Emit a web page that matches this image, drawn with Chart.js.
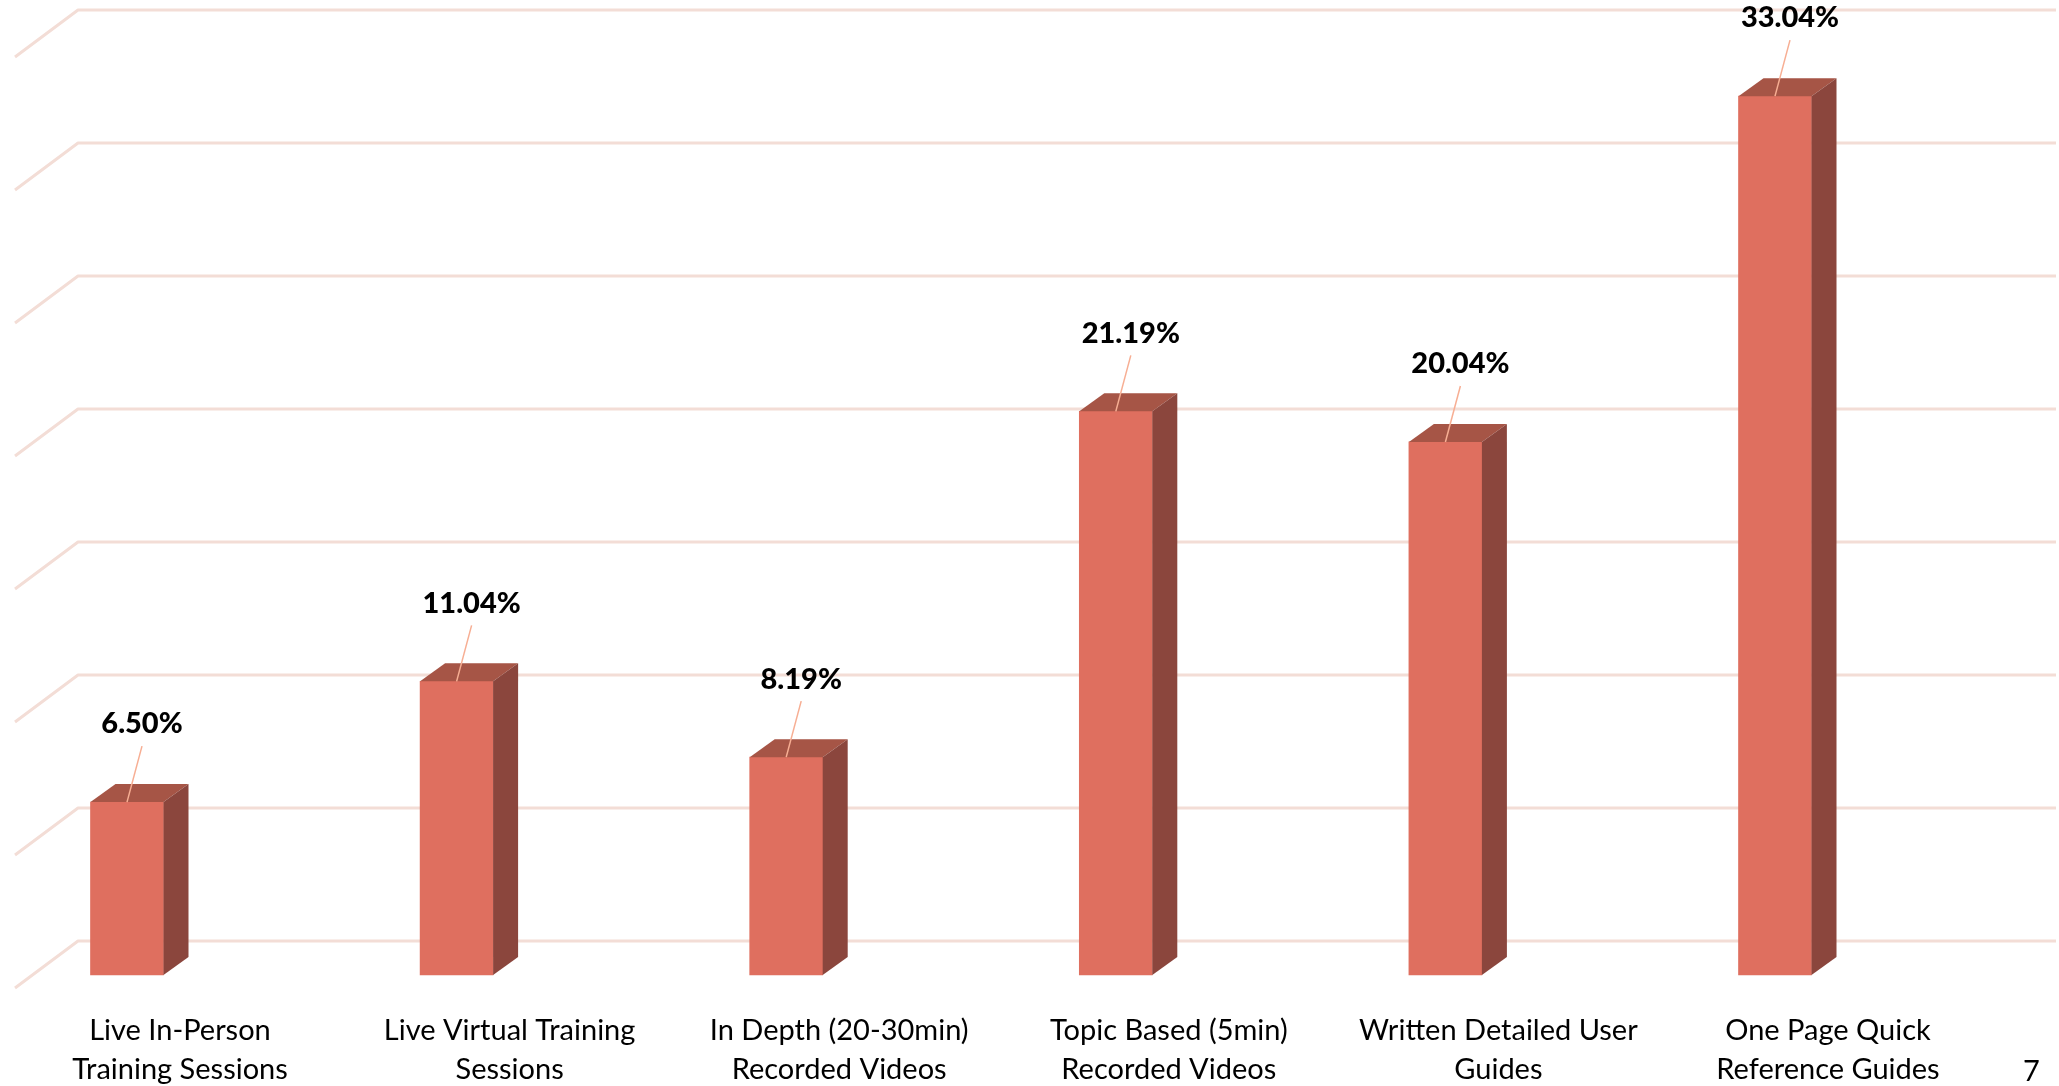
<!DOCTYPE html>
<html><head><meta charset="utf-8">
<script src="https://cdn.jsdelivr.net/npm/chart.js@4.4.1/dist/chart.umd.min.js"></script>
<style>
html,body{margin:0;padding:0;background:#fff;overflow:hidden;}
#wrap{position:relative;width:2059px;height:1086px;}
canvas{display:block;}
#pg{position:absolute;left:2023px;top:1052px;font:29px Lato, sans-serif;color:#000;}
</style></head><body>
<div id="wrap"><canvas id="c" width="2059" height="1086"></canvas><div id="pg">7</div></div>
<script>
const categories = [
  ["Live In-Person", "Training Sessions"],
  ["Live Virtual Training", "Sessions"],
  ["In Depth (20-30min)", "Recorded Videos"],
  ["Topic Based (5min)", "Recorded Videos"],
  ["Written Detailed User", "Guides"],
  ["One Page Quick", "Reference Guides"]
];
const shares = [6.50, 11.04, 8.19, 21.19, 20.04, 33.04];
const gridTicks = [0, 5, 10, 15, 20, 25, 30, 35];

const FRONT = '#DF6F5F', TOP = '#A65546', SIDE = '#8B463D';
const GRID = '#F3DDD6', LEADER = '#F7AE93';
const DX = 25, DY = 18;          // bar depth
const WALL = 34;                 // back wall offset
const FLOOR_DX = 63, FLOOR_DY = 47;

const gridPlugin = {
  id: 'grid3d',
  beforeDatasetsDraw(chart) {
    const ctx = chart.ctx, y = chart.scales.y;
    ctx.save();
    ctx.strokeStyle = GRID; ctx.lineWidth = 3; ctx.lineJoin = 'round';
    gridTicks.forEach(v => {
      const py = y.getPixelForValue(v) - WALL;
      ctx.beginPath();
      ctx.moveTo(78 - FLOOR_DX, py + FLOOR_DY);
      ctx.lineTo(78, py);
      ctx.lineTo(2056, py);
      ctx.stroke();
    });
    ctx.restore();
  }
};

const barPlugin = {
  id: 'bars3d',
  afterDatasetsDraw(chart) {
    const ctx = chart.ctx;
    const meta = chart.getDatasetMeta(0);
    ctx.save();
    meta.data.forEach((bar, i) => {
      const { x, y, base, width } = bar.getProps(['x', 'y', 'base', 'width'], true);
      const l = x - width / 2, r = x + width / 2;
      ctx.fillStyle = TOP;
      ctx.beginPath();
      ctx.moveTo(l, y); ctx.lineTo(r, y); ctx.lineTo(r + DX, y - DY); ctx.lineTo(l + DX, y - DY);
      ctx.closePath(); ctx.fill();
      ctx.fillStyle = SIDE;
      ctx.beginPath();
      ctx.moveTo(r, y); ctx.lineTo(r + DX, y - DY); ctx.lineTo(r + DX, base - DY); ctx.lineTo(r, base);
      ctx.closePath(); ctx.fill();

      const lx = x + 15, ly = y - 78;
      ctx.strokeStyle = LEADER; ctx.lineWidth = 1.5;
      ctx.beginPath();
      ctx.moveTo(lx, ly + 22); ctx.lineTo(x, y);
      ctx.stroke();
      ctx.fillStyle = '#000';
      ctx.font = '900 29px Lato, sans-serif';
      ctx.textAlign = 'center'; ctx.textBaseline = 'middle';
      ctx.fillText(shares[i].toFixed(2) + '%', lx, ly);
    });
    ctx.restore();
  }
};

new Chart(document.getElementById('c'), {
  type: 'bar',
  data: {
    labels: categories,
    datasets: [{
      data: shares,
      backgroundColor: FRONT,
      borderWidth: 0,
      barThickness: 73,
      clip: false
    }]
  },
  options: {
    responsive: false,
    animation: false,
    devicePixelRatio: 1,
    layout: { padding: { left: 127, right: 284, top: 44, bottom: 0 } },
    plugins: { legend: { display: false }, tooltip: { enabled: false } },
    scales: {
      x: {
        offset: false,
        grid: { display: false, drawTicks: false },
        border: { display: false },
        afterFit(scale) { scale.height = 111; scale.paddingLeft = 0; scale.paddingRight = 0; },
        ticks: {
          autoSkip: false, maxRotation: 0, minRotation: 0,
          labelOffset: 53, padding: 36, color: '#000',
          font: { family: 'Lato', size: 29, lineHeight: 1.35 }
        }
      },
      y: { display: false, min: 0, max: 35 }
    }
  },
  plugins: [gridPlugin, barPlugin]
});
</script>
</body></html>
